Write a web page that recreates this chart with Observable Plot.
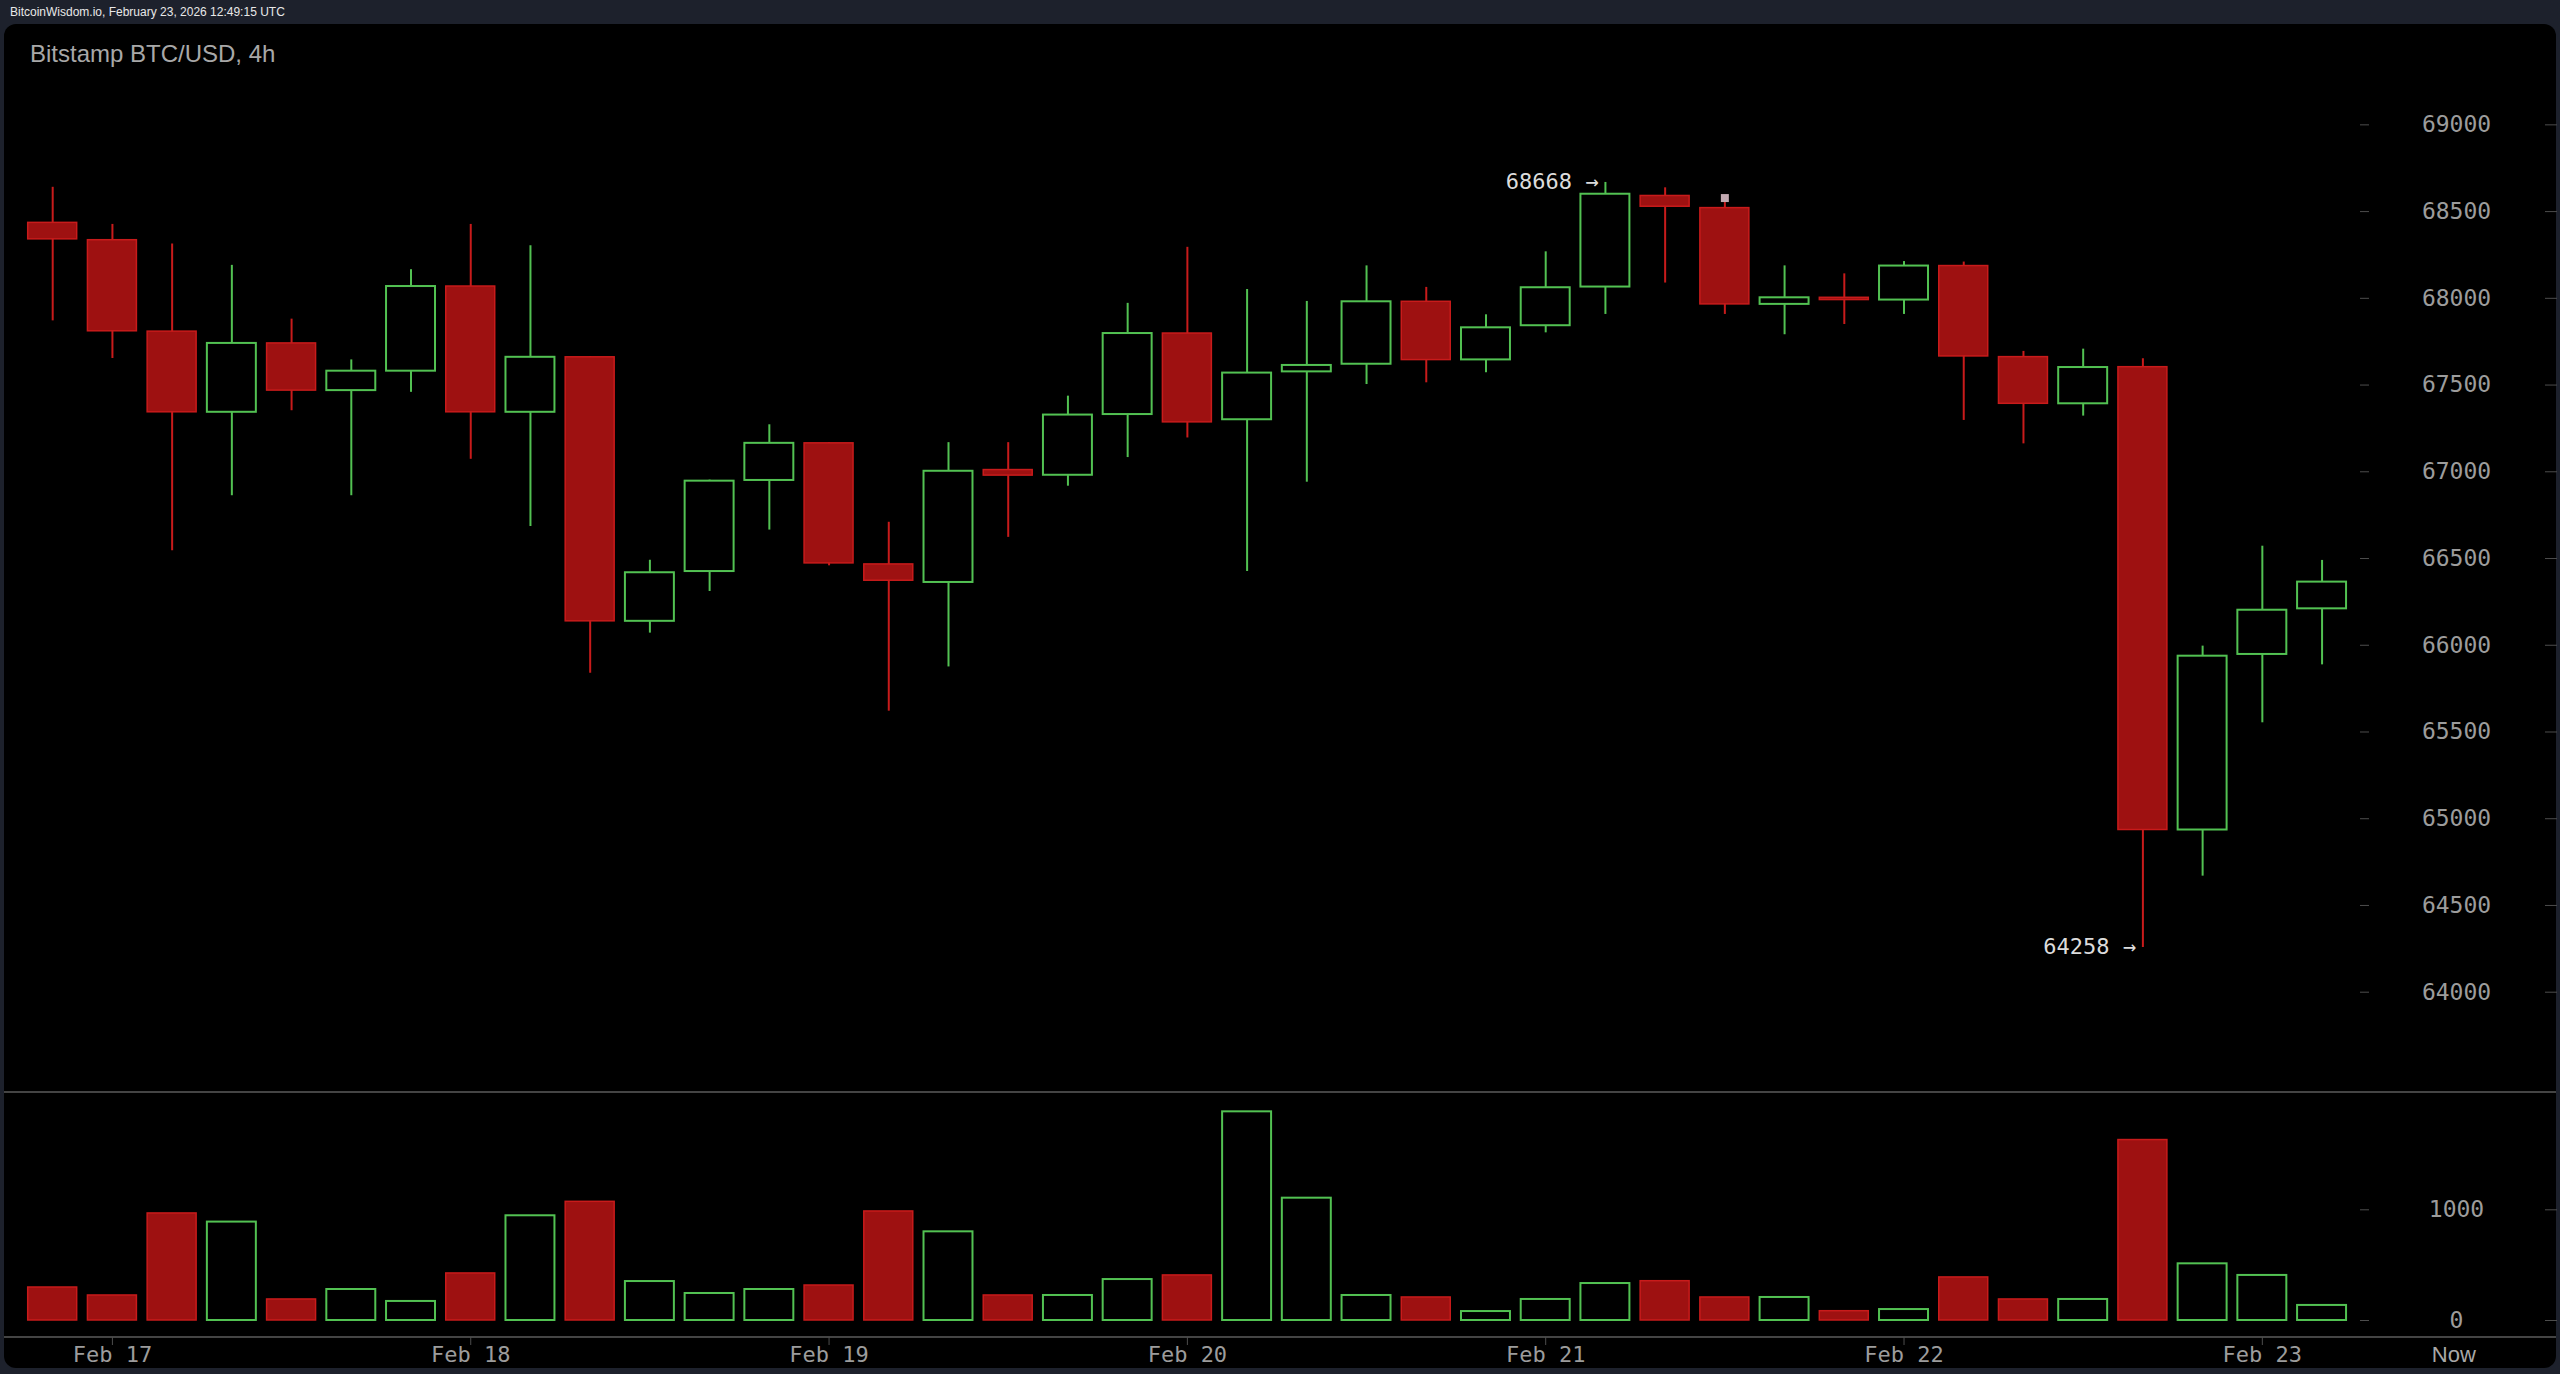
<!DOCTYPE html>
<html>
<head>
<meta charset="utf-8">
<script src="https://cdn.jsdelivr.net/npm/d3@7"></script>
<script src="https://cdn.jsdelivr.net/npm/@observablehq/plot@0.6"></script>
<style>
  html, body { margin: 0; padding: 0; background: #1d212c; width: 2560px; height: 1374px; overflow: hidden; position: relative; }
  #topline { position: absolute; left: 10px; top: 5px; font: 500 12px "Liberation Sans", Arial, sans-serif; color: #e8e8e8; line-height: 14px; }
  #panel { position: absolute; left: 4px; top: 24px; width: 2552px; height: 1344px; background: #000; border-radius: 12px; }
  #title { position: absolute; left: 30px; top: 42px; font: 24px "Liberation Sans", Arial, sans-serif; color: #a8a8a8; line-height: 24px; }
  .sep { position: absolute; left: 4px; width: 2552px; height: 2px; background: #444; }
  #price { position: absolute; left: 0; top: 0; }
  #volume { position: absolute; left: 0; top: 1092px; }
</style>
</head>
<body>
<div id="topline">BitcoinWisdom.io, February 23, 2026 12:49:15 UTC</div>
<div id="panel"></div>
<div id="title">Bitstamp BTC/USD, 4h</div>
<div class="sep" style="top:1091px"></div>
<div class="sep" style="top:1336px"></div>
<div id="price"></div>
<div id="volume"></div>
<script>
// ---- data ----
const times = [
  "2026-02-16T20:00Z",
  "2026-02-17T00:00Z","2026-02-17T04:00Z","2026-02-17T08:00Z","2026-02-17T12:00Z","2026-02-17T16:00Z","2026-02-17T20:00Z",
  "2026-02-18T00:00Z","2026-02-18T04:00Z","2026-02-18T08:00Z","2026-02-18T12:00Z","2026-02-18T16:00Z","2026-02-18T20:00Z",
  "2026-02-19T00:00Z","2026-02-19T04:00Z","2026-02-19T08:00Z","2026-02-19T12:00Z","2026-02-19T16:00Z","2026-02-19T20:00Z",
  "2026-02-20T00:00Z","2026-02-20T04:00Z","2026-02-20T08:00Z","2026-02-20T12:00Z","2026-02-20T16:00Z","2026-02-20T20:00Z",
  "2026-02-21T00:00Z","2026-02-21T04:00Z","2026-02-21T08:00Z","2026-02-21T12:00Z","2026-02-21T16:00Z","2026-02-21T20:00Z",
  "2026-02-22T00:00Z","2026-02-22T04:00Z","2026-02-22T08:00Z","2026-02-22T12:00Z","2026-02-22T16:00Z","2026-02-22T20:00Z",
  "2026-02-23T00:00Z","2026-02-23T04:00Z"
];
const open  = [68435,68335,67808,67343,67740,67468,67580,68068,67343,67660,66138,66425,66950,67164,66466,66362,67010,66980,67330,67797,67300,67576,67620,67980,67645,67842,68065,68590,68520,67965,68003,67990,68186,67661,67392,67603,64935,65947,66210];
const high  = [68640,68426,68313,68190,67880,67645,68165,68426,68303,67665,66490,66952,67271,67168,66709,67168,67168,67436,67971,68294,68051,67982,68187,68063,67905,68268,68668,68637,68555,68187,68141,68212,68209,67694,67707,67651,65995,66571,66489];
const low   = [67870,67653,66545,66862,67352,66862,67458,67072,66685,65838,66070,66310,66664,66458,65620,65875,66622,66917,67082,67195,66425,66940,67503,67513,67571,67801,67907,68088,67907,67790,67849,67907,67296,67161,67321,64258,64669,65553,65887];
const close = [68340,67810,67343,67740,67468,67580,68068,67343,67660,66138,66418,66946,67164,66472,66372,67003,66978,67327,67797,67285,67569,67613,67980,67644,67830,68061,68600,68528,67965,68003,67990,68186,67665,67392,67601,64935,65937,66202,66364];
const volume = [298,226,967,889,190,280,172,425,946,1072,352,244,280,316,985,801,226,226,370,407,1885,1105,226,208,81,190,334,355,208,208,84,99,389,190,190,1630,512,407,136];

const priceTicks = [64000,64500,65000,65500,66000,66500,67000,67500,68000,68500,69000];
const volumeTicks = [0, 1000];
const dayTicks = ["2026-02-17T00:00Z","2026-02-18T00:00Z","2026-02-19T00:00Z","2026-02-20T00:00Z","2026-02-21T00:00Z","2026-02-22T00:00Z","2026-02-23T00:00Z"];
const nowTime = "2026-02-23T12:49:15Z";
const annotations = [
  {t: "2026-02-21T04:00Z", price: 68668, label: "68668 →"},
  {t: "2026-02-22T16:00Z", price: 64258, label: "64258 →"}
];
const markers = [{t: "2026-02-21T12:00Z", price: 68578}];

// ---- build ----
const candles = times.map((t, i) => ({t: new Date(t), open: open[i], high: high[i], low: low[i], close: close[i], volume: volume[i]}));
const up = candles.filter(d => d.close >= d.open);
const down = candles.filter(d => d.close < d.open);

const HOUR = 3600e3;
const firstCenterPx = 52.2, stepPx = 59.72, frameRight = 2359;
const t0 = +candles[0].t;
const xDomain = [new Date(t0 - firstCenterPx / stepPx * 4 * HOUR), new Date(t0 + (frameRight - firstCenterPx) / stepPx * 4 * HOUR)];
const half = 1.64 * HOUR;
const bx1 = d => new Date(+d.t - half);
const bx2 = d => new Date(+d.t + half);

const GREEN = "#52c152";
const RED_FILL = "#9e1111";
const RED_EDGE = "#c81b1b";
const AXIS_TEXT = "#9c9c9c";
const AXIS_TICK = "#4d4d4d";

const svgStyle = {background: "transparent", fontFamily: "'DejaVu Sans Mono', monospace", fontSize: "22px", overflow: "visible"};

const pricePlot = Plot.plot({
  width: 2560, height: 1092,
  marginLeft: 0, marginRight: 2560 - frameRight, marginTop: 0, marginBottom: 0,
  style: svgStyle,
  x: {type: "utc", domain: xDomain, axis: null},
  y: {domain: [64000, 69000], range: [991.7, 124.35], label: null},
  marks: [
    Plot.ruleX(up, {x: "t", y1: "low", y2: "high", stroke: GREEN, strokeWidth: 2}),
    Plot.ruleX(down, {x: "t", y1: "low", y2: "high", stroke: RED_EDGE, strokeWidth: 2}),
    Plot.rect(up, {x1: bx1, x2: bx2, y1: "open", y2: "close", fill: "#000", stroke: GREEN, strokeWidth: 2}),
    Plot.rect(down, {x1: bx1, x2: bx2, y1: "open", y2: "close", fill: RED_FILL, stroke: RED_EDGE, strokeWidth: 1.5}),
    Plot.dot(markers, {x: d => new Date(d.t), y: "price", symbol: "square", r: 4.5, fill: "#c2a9b1", stroke: "none"}),
    Plot.text(annotations, {x: d => new Date(d.t), y: "price", text: "label", textAnchor: "end", dx: -7, fill: "#dcdcdc", fontSize: 22}),
    Plot.axisY({anchor: "right", label: null, ticks: priceTicks, tickSize: 9, tickPadding: 88, textAnchor: "middle", tickFormat: d => String(d), stroke: AXIS_TICK, fill: AXIS_TEXT, fontSize: 23}),
    Plot.axisY({anchor: "right", label: null, ticks: priceTicks, tickSize: 12, dx: 185, stroke: AXIS_TICK, fill: "none"})
  ]
});
document.getElementById("price").append(pricePlot);

const volumePlot = Plot.plot({
  width: 2560, height: 282,
  marginLeft: 0, marginRight: 2560 - frameRight, marginTop: 0, marginBottom: 37,
  style: svgStyle,
  x: {type: "utc", domain: xDomain, label: null},
  y: {domain: [0, 1000], range: [228, 117.3], label: null},
  marks: [
    Plot.rect(up, {x1: bx1, x2: bx2, y1: 0, y2: "volume", fill: "#000", stroke: GREEN, strokeWidth: 2}),
    Plot.rect(down, {x1: bx1, x2: bx2, y1: 0, y2: "volume", fill: RED_FILL, stroke: RED_EDGE, strokeWidth: 1.5}),
    Plot.axisY({anchor: "right", label: null, ticks: volumeTicks, tickSize: 9, tickPadding: 88, textAnchor: "middle", tickFormat: d => String(d), stroke: AXIS_TICK, fill: AXIS_TEXT, fontSize: 23}),
    Plot.axisY({anchor: "right", label: null, ticks: volumeTicks, tickSize: 12, dx: 185, stroke: AXIS_TICK, fill: "none"}),
    Plot.axisX({anchor: "bottom", label: null, ticks: dayTicks.map(d => new Date(d)), tickSize: 8, tickPadding: 1, tickFormat: d3.utcFormat("%b %d"), stroke: AXIS_TICK, fill: AXIS_TEXT, fontSize: 22}),
    Plot.axisX({anchor: "bottom", label: null, ticks: [new Date(nowTime)], tickSize: 0, tickPadding: 9, tickFormat: () => "Now", fill: "#a8a8a8", fontSize: 22, fontFamily: "'Liberation Sans', Arial, sans-serif"})
  ]
});
document.getElementById("volume").append(volumePlot);
</script>
</body>
</html>
